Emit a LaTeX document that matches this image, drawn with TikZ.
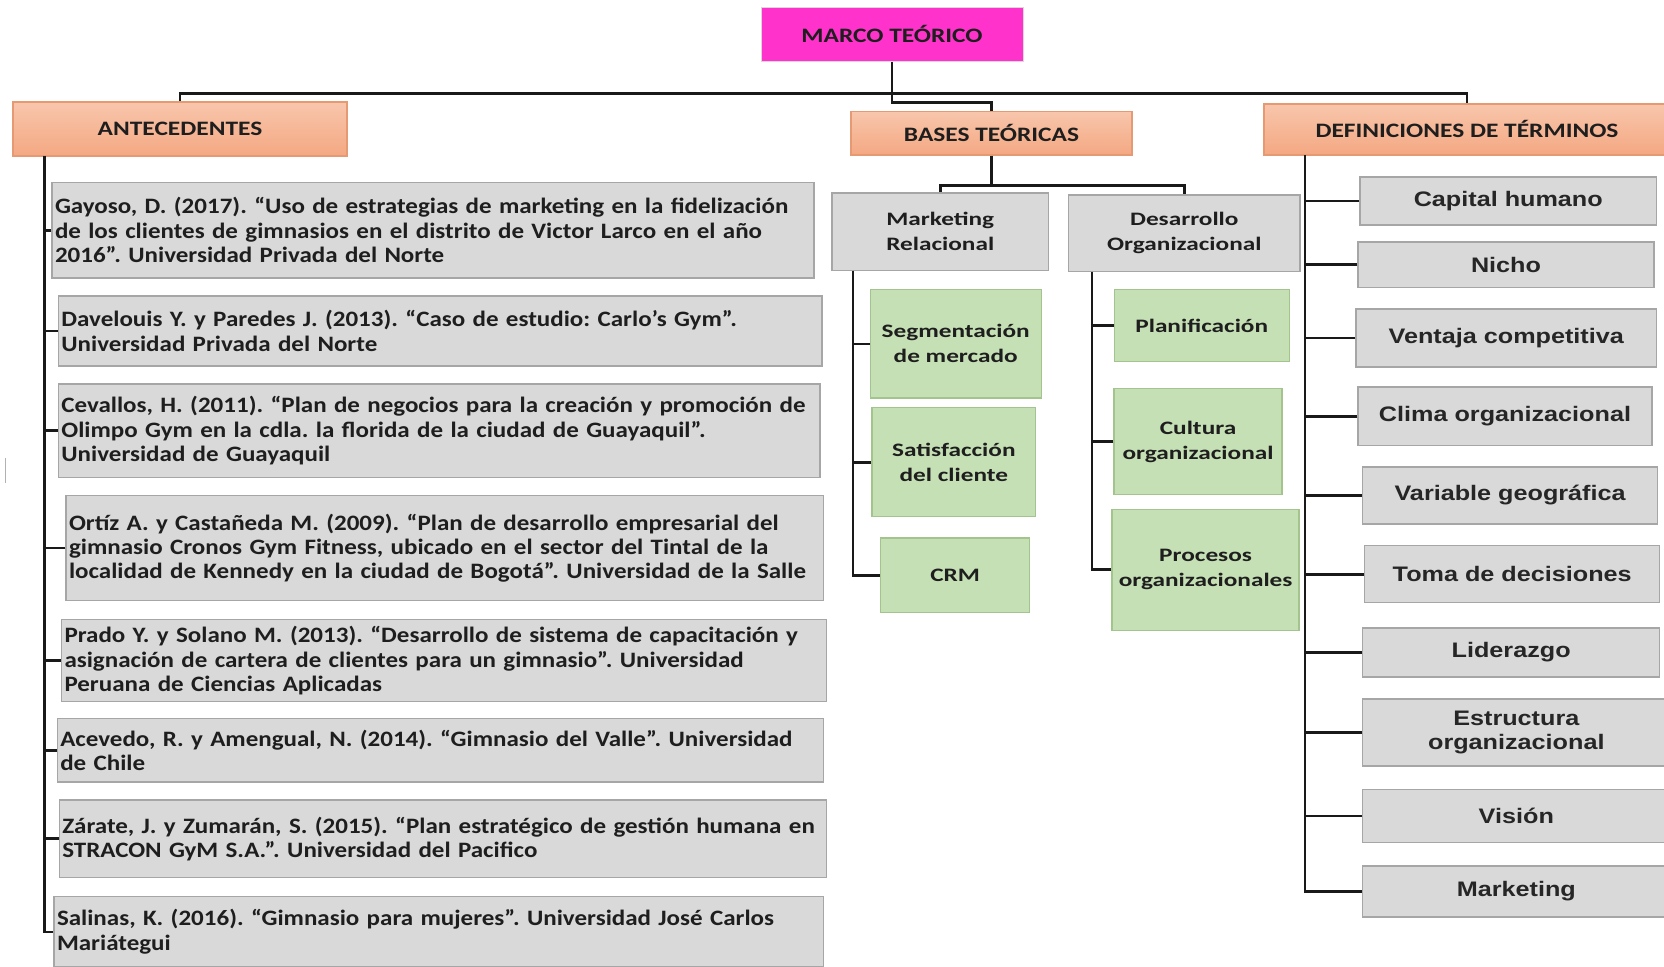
\documentclass[tikz,border=0pt]{standalone}
\usepackage{fontspec}
\newfontfamily\calb{Carlito}[FakeStretch=1.24]
\newfontfamily\calr{Carlito}[FakeStretch=1.137]
\newfontfamily\calbw{Carlito}[FakeStretch=1.33]
\newfontfamily\arib{Liberation Sans}[FakeStretch=1.2]
\definecolor{magentab}{HTML}{FF33CC}
\definecolor{boxgray}{HTML}{D9D9D9}
\definecolor{grayline}{HTML}{A6A6A6}
\definecolor{boxgreen}{HTML}{C5E0B4}
\definecolor{greenline}{HTML}{A3C48C}
\definecolor{salmontop}{HTML}{F8C6AC}
\definecolor{salmonbot}{HTML}{F4A882}
\definecolor{salmonline}{HTML}{E59A74}
\definecolor{inkc}{HTML}{1E1E1E}
\tikzset{
  conn/.style={line width=2.7pt, draw=black!90},
  grayb/.style={draw=grayline, line width=1.3pt, fill=boxgray, inner sep=0pt, text=inkc},
  greenb/.style={draw=greenline, line width=1.3pt, fill=boxgreen, inner sep=0pt, text=inkc, align=center, font=\calbw\bfseries\fontsize{19}{25}\selectfont},
  midb/.style={grayb, align=center, font=\calbw\bfseries\fontsize{19}{25}\selectfont},
  headb/.style={draw=salmonline, line width=1.2pt, top color=salmontop, bottom color=salmonbot, inner sep=0pt, text=inkc, font=\calb\bfseries\fontsize{20.5}{24}\selectfont},
  refb/.style={grayb, align=left, inner xsep=3pt, font=\calr\bfseries\fontsize{22}{24.4}\selectfont\frenchspacing},
  defb/.style={grayb, align=center, font=\arib\bfseries\fontsize{21}{24.4}\selectfont, text=black!85},
}
\begin{document}
\begin{tikzpicture}[x=1pt,y=-1pt]
\useasboundingbox (0,0) rectangle (1664,966);
% top
\node[draw=black!15, line width=1pt, fill=magentab, inner sep=0pt, minimum width=262pt, minimum height=54pt, text=inkc, font=\calb\bfseries\fontsize{20.5}{24}\selectfont] (marco) at (892,34.5) {\raisebox{2pt}{MARCO TEÓRICO}};
\node[headb, minimum width=334pt, minimum height=54pt] (ante) at (180,129) {ANTECEDENTES};
\node[headb, minimum width=281pt, minimum height=43.5pt] (bases) at (991.5,133.2) {BASES TEÓRICAS};
\node[headb, minimum width=406pt, minimum height=51pt] (def) at (1467,129.5) {\raisebox{2pt}{DEFINICIONES DE TÉRMINOS}};
\coordinate (j1) at (892,93.4);
\coordinate (j2) at (892,102.5);
\draw[conn] (marco.south) -- (j1);
\draw[conn] (j1) -| (ante.north);
\draw[conn] (j1) -| (def.north);
\draw[conn] (j1) -- (j2) -| (bases.north);
% antecedentes
\node[refb, minimum width=762pt, minimum height=95.5pt, text width=756pt] (a1) at (433,230.25) {\mbox{Gayoso, D. (2017). “Uso de estrategias de marketing en la fidelización}\\\mbox{de los clientes de gimnasios en el distrito de Victor Larco en el año}\\\mbox{2016”. Universidad Privada del Norte}};
\node[refb, minimum width=763.6pt, minimum height=70pt, text width=757.6pt] (a2) at (440.2,331) {\mbox{Davelouis Y. y Paredes J. (2013). “Caso de estudio: Carlo’s Gym”.}\\\mbox{Universidad Privada del Norte}};
\node[refb, minimum width=761.6pt, minimum height=93.5pt, text width=755.6pt] (a3) at (439.2,430.75) {\mbox{Cevallos, H. (2011). “Plan de negocios para la creación y promoción de}\\\mbox{Olimpo Gym en la cdla. la florida de la ciudad de Guayaquil”.}\\\mbox{Universidad de Guayaquil}};
\node[refb, minimum width=757.5pt, minimum height=105pt, text width=751.5pt] (a4) at (444.75,548.1) {\mbox{Ortíz A. y Castañeda M. (2009). “Plan de desarrollo empresarial del}\\\mbox{gimnasio Cronos Gym Fitness, ubicado en el sector del Tintal de la}\\\mbox{localidad de Kennedy en la ciudad de Bogotá”. Universidad de la Salle}};
\node[refb, minimum width=765.2pt, minimum height=81.8pt, text width=759.2pt] (a5) at (444.1,660.6) {\mbox{Prado Y. y Solano M. (2013). “Desarrollo de sistema de capacitación y}\\\mbox{asignación de cartera de clientes para un gimnasio”. Universidad}\\\mbox{Peruana de Ciencias Aplicadas}};
\node[refb, minimum width=766.2pt, minimum height=63.6pt, text width=760.2pt] (a6) at (440.4,750.2) {\mbox{Acevedo, R. y Amengual, N. (2014). “Gimnasio del Valle”. Universidad}\\\mbox{de Chile}};
\node[refb, minimum width=767.3pt, minimum height=77.6pt, text width=761.3pt] (a7) at (443,838.8) {\mbox{Zárate, J. y Zumarán, S. (2015). “Plan estratégico de gestión humana en}\\\mbox{STRACON GyM S.A.”. Universidad del Pacifico}};
\node[refb, minimum width=769.5pt, minimum height=70.3pt, text width=763.5pt] (a8) at (438.75,931.85) {\mbox{Salinas, K. (2016). “Gimnasio para mujeres”. Universidad José Carlos}\\\mbox{Mariátegui}};
\coordinate (antT) at (44.6,156);
\draw[conn] (antT) |- (a8.west);
\foreach \i in {1,...,7} {\draw[conn] (a\i.west) -- (a\i.west -| antT);}
% bases
\node[midb, minimum width=216.5pt, minimum height=77.6pt] (mr) at (940.25,231.8) {Marketing\\Relacional};
\node[midb, minimum width=231.4pt, minimum height=76.7pt] (do) at (1184.3,233.35) {Desarrollo\\Organizacional};
\coordinate (j3) at (991.5,185.7);
\draw[conn] (bases.south) -- (j3);
\draw[conn] (j3) -| (mr.north);
\draw[conn] (j3) -| (do.north);
\node[greenb, minimum width=171pt, minimum height=108.3pt] (seg) at (955.7,343.85) {Segmentación\\de mercado};
\node[greenb, minimum width=163.7pt, minimum height=109.3pt] (sat) at (953.85,462.15) {Satisfacción\\del cliente};
\node[greenb, minimum width=148.6pt, minimum height=74.3pt] (crm) at (955.1,575.15) {CRM};
\node[greenb, minimum width=175pt, minimum height=72pt] (pla) at (1201.7,325.8) {Planificación};
\node[greenb, minimum width=168pt, minimum height=106pt] (cul) at (1198,441.5) {Cultura\\organizacional};
\node[greenb, minimum width=187pt, minimum height=121pt] (pro) at (1205.6,569.7) {Procesos\\organizacionales};
\coordinate (mrT) at (853,270.6);
\draw[conn] (mrT) |- (crm.west);
\draw[conn] (seg.west) -- (seg.west -| mrT);
\draw[conn] (sat.west) -- (sat.west -| mrT);
\coordinate (doT) at (1092,271.7);
\draw[conn] (doT) |- (pro.west);
\draw[conn] (pla.west) -- (pla.west -| doT);
\draw[conn] (cul.west) -- (cul.west -| doT);
% definiciones
\node[defb, minimum width=296.5pt, minimum height=48pt] (d1) at (1508.25,201) {Capital humano};
\node[defb, minimum width=296pt, minimum height=45.6pt] (d2) at (1506,264.8) {Nicho};
\node[defb, minimum width=300.5pt, minimum height=58pt] (d3) at (1506.25,338) {Ventaja competitiva};
\node[defb, minimum width=294pt, minimum height=58.7pt] (d4) at (1505,416.35) {Clima organizacional};
\node[defb, minimum width=295pt, minimum height=57pt] (d5) at (1510.1,495.5) {Variable geográfica};
\node[defb, minimum width=295pt, minimum height=57.3pt] (d6) at (1512.2,574.15) {Toma de decisiones};
\node[defb, minimum width=297.1pt, minimum height=49pt] (d7) at (1511.15,652.5) {Liderazgo};
\node[defb, minimum width=307.4pt, minimum height=67pt] (d8) at (1516.3,732.5) {Estructura\\organizacional};
\node[defb, minimum width=307.4pt, minimum height=53pt] (d9) at (1516.3,816) {Visión};
\node[defb, minimum width=307.4pt, minimum height=51pt] (d10) at (1516.3,891.5) {Marketing};
\coordinate (defT) at (1305,155);
\draw[conn] (defT) |- (d10.west);
\foreach \i in {1,...,9} {\draw[conn] (d\i.west) -- (d\i.west -| defT);}
% stray mark at left edge
\draw[line width=1.5pt, draw=black!30] (5.3,458) -- (5.3,483);
\end{tikzpicture}
\end{document}
